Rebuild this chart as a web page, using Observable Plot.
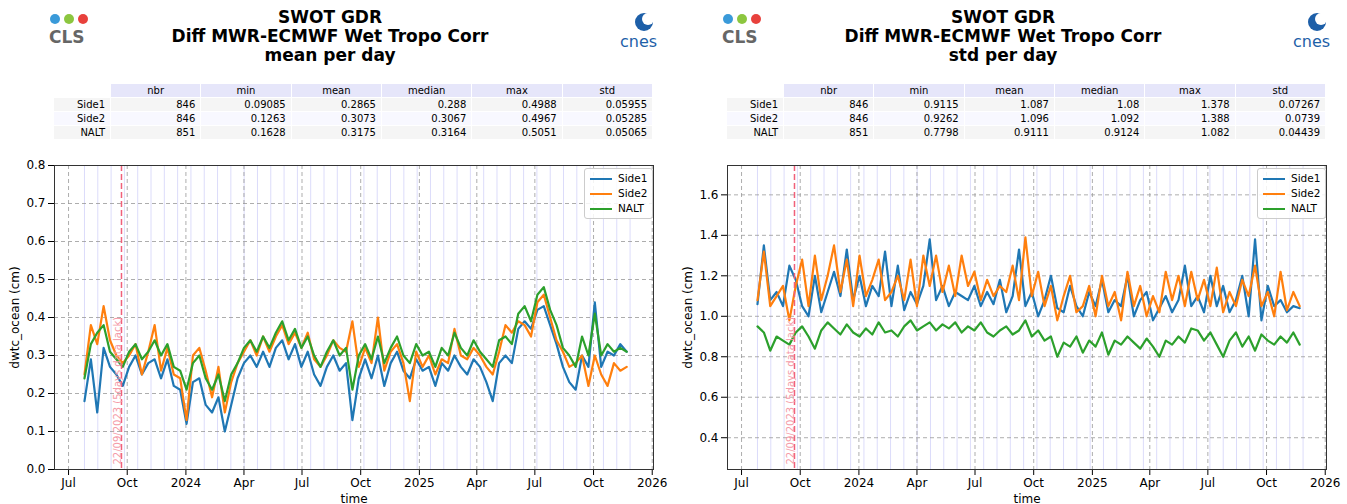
<!DOCTYPE html>
<html><head><meta charset="utf-8">
<script src="https://cdn.jsdelivr.net/npm/d3@7"></script>
<script src="https://cdn.jsdelivr.net/npm/@observablehq/plot@0.6"></script>
<style>
body{margin:0;background:#fff;font-family:"DejaVu Sans",sans-serif;}
#wrap{display:flex;width:1347px;}
.panel{position:relative;width:673px;height:504px;}
.title{position:absolute;left:0;width:660px;top:8px;text-align:center;font-weight:bold;font-size:17px;line-height:19px;color:#000;}
table{position:absolute;left:53px;top:83px;width:600px;border-collapse:separate;border-spacing:1px;font-size:10px;table-layout:fixed;}
th{background:#e6e6fa;font-weight:normal;height:12px;padding:0;}
td{text-align:right;padding:0 5px;height:13px;}
tr.r0 td{background:#f5f5f5;} tr.r1 td{background:#f8f8ff;}
td.h{background:#fff;}
.legend{position:absolute;background:rgba(255,255,255,0.85);border:1px solid #ccc;border-radius:3px;font-size:10.5px;padding:2px 5px;line-height:15px;}
.legend span{display:inline-block;width:22px;height:2.5px;vertical-align:middle;margin-right:6px;}
.svgbox{position:absolute;left:0;top:150px;}
</style></head><body><div id="wrap"></div>
<script>
const start = new Date(2023,6,26);
const stepDays = 10;
const meanSide1=[0.18,0.29,0.15,0.32,0.27,0.25,0.22,0.27,0.30,0.25,0.28,0.29,0.24,0.29,0.22,0.21,0.12,0.23,0.24,0.17,0.15,0.19,0.10,0.17,0.24,0.28,0.30,0.27,0.31,0.27,0.32,0.34,0.29,0.33,0.27,0.31,0.25,0.22,0.27,0.30,0.26,0.28,0.13,0.24,0.29,0.24,0.30,0.22,0.28,0.31,0.26,0.24,0.29,0.26,0.27,0.22,0.28,0.26,0.30,0.27,0.25,0.29,0.27,0.23,0.18,0.28,0.30,0.28,0.37,0.39,0.37,0.42,0.43,0.38,0.33,0.27,0.23,0.21,0.30,0.27,0.44,0.27,0.31,0.30,0.33,0.31];
const meanSide2=[0.25,0.38,0.33,0.43,0.34,0.30,0.28,0.30,0.33,0.25,0.31,0.38,0.26,0.32,0.25,0.24,0.13,0.30,0.32,0.26,0.19,0.27,0.15,0.23,0.28,0.31,0.34,0.30,0.35,0.31,0.35,0.38,0.33,0.36,0.32,0.36,0.29,0.27,0.30,0.34,0.32,0.31,0.39,0.27,0.32,0.28,0.40,0.26,0.31,0.33,0.28,0.18,0.31,0.27,0.30,0.25,0.29,0.28,0.37,0.30,0.29,0.32,0.30,0.27,0.25,0.31,0.38,0.36,0.39,0.38,0.35,0.44,0.46,0.40,0.34,0.31,0.27,0.28,0.30,0.22,0.30,0.25,0.22,0.28,0.26,0.27];
const meanNALT=[0.24,0.33,0.36,0.38,0.31,0.29,0.27,0.31,0.33,0.29,0.31,0.34,0.30,0.33,0.27,0.26,0.21,0.28,0.30,0.24,0.21,0.25,0.18,0.25,0.28,0.32,0.34,0.31,0.35,0.32,0.36,0.39,0.34,0.37,0.32,0.35,0.30,0.27,0.31,0.34,0.30,0.32,0.21,0.30,0.33,0.29,0.35,0.28,0.32,0.35,0.30,0.28,0.33,0.30,0.31,0.27,0.32,0.30,0.36,0.32,0.30,0.34,0.31,0.29,0.27,0.34,0.35,0.33,0.41,0.43,0.39,0.46,0.48,0.42,0.38,0.32,0.30,0.27,0.35,0.30,0.41,0.30,0.33,0.31,0.32,0.31];
const stdSide1=[1.06,1.35,1.08,1.12,1.05,1.25,1.18,1.05,1.00,1.20,1.02,1.12,1.22,1.10,1.33,1.08,1.20,1.05,1.15,1.10,1.32,1.05,1.25,1.03,1.12,1.06,1.15,1.38,1.08,1.15,1.05,1.12,1.10,1.08,1.15,1.05,1.12,1.06,1.18,1.02,1.10,1.33,1.05,1.12,1.00,1.08,1.20,1.04,1.02,1.15,1.05,1.00,1.12,1.05,1.18,1.02,1.08,1.05,1.20,1.00,1.08,1.12,0.98,1.04,1.10,1.02,1.08,1.25,1.05,1.10,1.02,1.20,1.05,1.15,1.02,1.08,1.20,1.00,1.38,0.98,1.15,1.05,1.08,1.02,1.05,1.04];
const stdSide2=[1.08,1.32,1.05,1.10,1.15,0.98,1.15,1.28,1.05,1.30,1.08,1.20,1.35,1.12,1.28,1.05,1.30,1.10,1.18,1.28,1.08,1.12,1.20,1.08,1.28,1.05,1.30,1.15,1.30,1.12,1.25,1.10,1.30,1.15,1.22,1.08,1.18,1.10,1.15,1.12,1.25,1.08,1.39,1.10,1.22,1.05,1.15,0.98,1.10,1.20,1.02,1.05,1.15,1.00,1.20,1.05,1.12,0.98,1.22,1.05,1.15,1.00,1.10,1.02,1.22,1.08,1.20,1.05,1.22,1.08,1.18,1.05,1.24,1.02,1.12,1.05,1.18,1.10,1.25,1.05,1.12,1.00,1.22,1.03,1.12,1.05];
const stdNALT=[0.95,0.92,0.83,0.90,0.88,0.86,0.92,0.95,0.90,0.84,0.93,0.97,0.94,0.91,0.96,0.92,0.90,0.94,0.91,0.97,0.92,0.93,0.90,0.95,0.98,0.93,0.95,0.97,0.93,0.96,0.94,0.97,0.92,0.95,0.93,0.97,0.92,0.90,0.93,0.95,0.91,0.93,0.98,0.90,0.93,0.88,0.90,0.80,0.87,0.85,0.90,0.82,0.88,0.85,0.92,0.81,0.88,0.86,0.90,0.87,0.84,0.89,0.85,0.80,0.88,0.86,0.90,0.87,0.94,0.93,0.88,0.92,0.86,0.80,0.88,0.92,0.85,0.90,0.83,0.91,0.88,0.86,0.90,0.87,0.92,0.86];
const seriesNames=["Side1","Side2","NALT"];
const colors=["#1f77b4","#ff7f0e","#2ca02c"];
const tableCols=["nbr","min","mean","median","max","std"];
const meanTable=[["846","0.09085","0.2865","0.288","0.4988","0.05955"],["846","0.1263","0.3073","0.3067","0.4967","0.05285"],["851","0.1628","0.3175","0.3164","0.5051","0.05065"]];
const stdTable=[["846","0.9115","1.087","1.08","1.378","0.07267"],["846","0.9262","1.096","1.092","1.388","0.0739"],["851","0.7798","0.9111","0.9124","1.082","0.04439"]];
const eventDate=new Date(2023,8,22);
const eventLabel="22/09/2023 (5days data lack)";
const cycleStart=new Date(2023,6,26), cycleDays=20.86;

function dateAt(i){return d3.timeDay.offset(start,i*stepDays);}
const cycles=[];for(let t=+cycleStart;t<+new Date(2025,11,1);t+=cycleDays*864e5)cycles.push(new Date(t));

function panel(sub,vals,table,ydom,yticks){
  const div=document.createElement("div");div.className="panel";
  div.innerHTML=`<svg style="position:absolute;left:48px;top:13px" width="50" height="38">
   <circle cx="7" cy="6" r="5" fill="#3a9ad9"/><circle cx="21" cy="6" r="5" fill="#8cc63f"/><circle cx="35" cy="6" r="5" fill="#e8413c"/>
   <text x="1" y="30" font-size="17" font-weight="bold" fill="#666" font-family="DejaVu Sans">CLS</text></svg>
   <svg style="position:absolute;left:618px;top:10px" width="52" height="40">
   <circle cx="26" cy="12" r="9" fill="#1d5fa8"/><circle cx="30" cy="9" r="6" fill="#fff"/>
   <text x="2" y="37" font-size="16" fill="#1d5fa8" font-family="DejaVu Sans">cnes</text></svg>
   <div class="title">SWOT GDR<br>Diff MWR-ECMWF Wet Tropo Corr<br>${sub}</div>`;
  const t=document.createElement("table");
  let h="<colgroup><col style='width:56px'>"+tableCols.map(()=>"<col>").join("")+"</colgroup><tr><td class='h'></td>"+tableCols.map(c=>`<th>${c}</th>`).join("")+"</tr>";
  table.forEach((r,i)=>{h+=`<tr class="r${i%2}"><td style="text-align:right">${seriesNames[i]}</td>`+r.map(v=>`<td>${v}</td>`).join("")+"</tr>";});
  t.innerHTML=h;div.appendChild(t);
  const data=[];vals.forEach((arr,s)=>arr.forEach((v,i)=>data.push({date:dateAt(i),v,s:seriesNames[s]})));
  const plot=Plot.plot({width:673,height:354,marginTop:15,marginBottom:35,marginLeft:54,marginRight:20,
    style:{fontSize:"10.5px",fontFamily:"DejaVu Sans"},
    x:{type:"time",domain:[new Date(2023,5,9),new Date(2026,0,3)],ticks:d3.timeMonth.every(3),
       tickFormat:d=>d.getMonth()===0?d3.timeFormat("%Y")(d):d3.timeFormat("%b")(d),label:"time",labelAnchor:"center",labelArrow:"none",labelOffset:33},
    y:{domain:ydom,ticks:yticks,tickFormat:d3.format(".1f"),label:"dwtc_ocean (cm)",labelAnchor:"center",labelArrow:"none",labelOffset:44},
    color:{domain:seriesNames,range:colors},
    marks:[
      Plot.ruleX(cycles,{stroke:"#dcdcfa",strokeWidth:1}),
      Plot.gridX({ticks:d3.timeMonth.every(3),stroke:"#999",strokeOpacity:0.8,strokeDasharray:"4,3"}),
      Plot.gridY({ticks:yticks,stroke:"#999",strokeOpacity:0.8,strokeDasharray:"4,3"}),
      Plot.line(data,{x:"date",y:"v",z:"s",stroke:"s",strokeWidth:2.2}),
      Plot.ruleX([eventDate],{stroke:"#f0607a",strokeWidth:1.5,strokeDasharray:"6,3"}),
      Plot.text([eventLabel],{x:eventDate,y:ydom[0],text:d=>d,rotate:-90,textAnchor:"start",dy:-5,dx:-4,fill:"#f59aa8",fontSize:10}),
      Plot.frame({stroke:"#333"})
    ]});
  plot.querySelectorAll("g[aria-label$='label'] text").forEach(e=>e.style.fontSize="12px");
  const box=document.createElement("div");box.className="svgbox";box.appendChild(plot);div.appendChild(box);
  const lg=document.createElement("div");lg.className="legend";lg.style.left="584px";lg.style.top="168px";
  lg.innerHTML=seriesNames.map((n,i)=>`<div><span style="background:${colors[i]}"></span>${n}</div>`).join("");
  div.appendChild(lg);
  return div;
}
const w=document.getElementById("wrap");
w.appendChild(panel("mean per day",[meanSide1,meanSide2,meanNALT],meanTable,[0,0.8],d3.range(0,0.81,0.1)));
w.appendChild(panel("std per day",[stdSide1,stdSide2,stdNALT],stdTable,[0.243,1.745],[0.4,0.6,0.8,1.0,1.2,1.4,1.6]));
</script></body></html>
